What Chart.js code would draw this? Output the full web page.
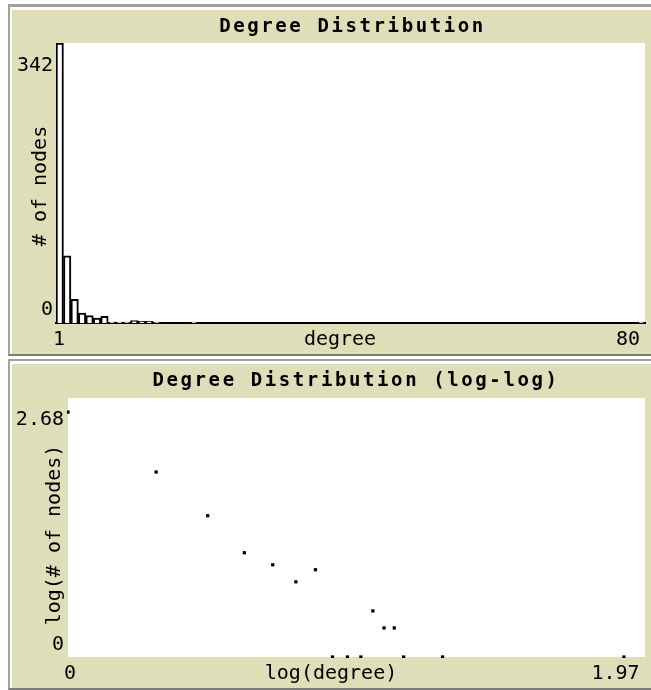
<!DOCTYPE html>
<html><head><meta charset="utf-8">
<script src="https://cdn.jsdelivr.net/npm/chart.js@4.4.0/dist/chart.umd.min.js"></script>
<style>
html,body{margin:0;padding:0;background:#fff;}
body{width:651px;height:690px;overflow:hidden;position:relative;}
.frame{position:absolute;left:8px;width:720px;box-sizing:border-box;background:#dedeb8;border-left:2px solid #a0a0a0;box-shadow:inset 2px 3px 0 #fff;}
#f1{top:4px;height:352px;border-top:3px solid #a0a0a0;border-bottom:2px solid #7c7c7c;}
#f2{top:359px;height:331px;border-top:2px solid #a0a0a0;border-bottom:2px solid #7c7c7c;}
canvas{position:absolute;left:12px;}
#c1{top:10px;}
#c2{top:364px;}
</style></head>
<body>
<div class="frame" id="f1"></div>
<div class="frame" id="f2"></div>
<canvas id="c1" width="678" height="344"></canvas>
<canvas id="c2" width="678" height="324"></canvas>
<script>
// ---- data ----
const degrees    = [1, 2, 3, 4, 5, 6, 7, 8, 9, 10, 11, 12, 13, 14, 19, 79];
const nodeCounts = [342, 82, 29, 12, 9, 6, 8, 1, 1, 1, 3, 2, 2, 1, 1, 1];
const logDegree  = [0, 0.301, 0.477, 0.602, 0.699, 0.778, 0.845, 0.903, 0.954, 1.0, 1.041, 1.079, 1.114, 1.146, 1.279, 1.898];
const logNodes   = [2.534, 1.914, 1.462, 1.079, 0.954, 0.778, 0.903, 0, 0, 0, 0.477, 0.301, 0.301, 0, 0, 0];
const histXTicks = [1, 80];
const histYTicks = [0, 342];
const logXTicks  = [0, 1.97];
const logYTicks  = [0, 2.68];
const histXTickLabels = ['1', '80'];
const histYTickLabels = ['0', '342'];
const logXTickLabels  = ['0', '1.97'];
const logYTickLabels  = ['0', '2.68'];

const MONO = '"DejaVu Sans Mono", monospace';
const tickFont = {family: MONO, size: 20, lineHeight: 1.2};
const titleFont = {family: MONO, size: 19, weight: 'bold', lineHeight: 1.2};

// plugin: white plot area, NetLogo-style label placement, spaced title
const netlogoLook = {
  id: 'netlogoLook',
  beforeDraw(chart, args, opts) {
    const {ctx, chartArea: a} = chart;
    ctx.save();
    ctx.fillStyle = '#ffffff';
    ctx.fillRect(a.left, a.top, a.right - a.left, a.bottom - a.top);
    ctx.restore();
    for (const id of ['x', 'y']) {
      const s = chart.scales[id];
      const o = opts[id];
      if (!s || !o) continue;
      const items = s.getLabelItems();
      items.forEach((it, i) => {
        const d = o.labels && o.labels[i];
        if (d && !it.__shifted) {
          it.options.translation = [it.options.translation[0] + d[0], it.options.translation[1] + d[1]];
          it.__shifted = true;
        }
      });
      if (!s.__wrapped && o.title) {
        const orig = s.drawTitle;
        s.drawTitle = function () {
          const c = this.ctx;
          c.save(); c.translate(o.title[0], o.title[1]); orig.call(this); c.restore();
        };
        s.__wrapped = true;
      }
    }
    const tb = chart.titleBlock;
    if (tb && !tb.__wrapped) {
      const origDraw = tb.draw;
      tb.draw = function (area) {
        const c = this.ctx;
        c.save();
        c.letterSpacing = (opts.titleSpacing || 0) + 'px';
        c.translate(opts.titleShift || 0, 0);
        origDraw.call(this, area);
        c.restore();
      };
      tb.__wrapped = true;
    }
  }
};

function fixedTicks(values) {
  return (s) => { s.ticks = values.map(v => ({value: v})); };
}
function labelFrom(values, labels) {
  return (v) => { const i = values.indexOf(v); return i >= 0 ? labels[i] : ''; };
}

// ---- Degree Distribution histogram ----
new Chart(document.getElementById('c1'), {
  type: 'bar',
  data: {
    datasets: [{
      data: degrees.map((d, i) => ({x: d + 0.5, y: nodeCounts[i]})),
      backgroundColor: '#ffffff',
      borderColor: '#000000',
      borderWidth: 2,
      barPercentage: 1,
      categoryPercentage: 1
    }]
  },
  options: {
    responsive: false, animation: false, devicePixelRatio: 1,
    events: [],
    layout: {padding: {left: 0, right: 45, top: 0, bottom: 0}},
    plugins: {
      legend: {display: false}, tooltip: {enabled: false},
      title: {display: true, text: 'Degree Distribution', color: '#000',
              font: titleFont, padding: {top: 5.6, bottom: 4.6}},
      netlogoLook: {titleSpacing: 2.6, titleShift: 24,
        x: {labels: [[3, 0], [-17, 0]], title: [-10.5, 0]},
        y: {labels: [[0, -13.5], [0, 22.5]], title: [0, 3]}}
    },
    scales: {
      x: {type: 'linear', min: histXTicks[0], max: histXTicks[1], offset: false,
          afterBuildTicks: fixedTicks(histXTicks), afterFit: (s) => { s.height = 31; },
          grid: {display: true, drawOnChartArea: false, drawTicks: false},
          border: {display: true, color: '#000', width: 2},
          ticks: {font: tickFont, color: '#000', padding: 5, maxRotation: 0, autoSkip: false,
                  callback: labelFrom(histXTicks, histXTickLabels)},
          title: {display: true, text: 'degree', color: '#000', font: tickFont, padding: {top: 0, bottom: 2}}},
      y: {type: 'linear', min: histYTicks[0], max: histYTicks[1],
          afterBuildTicks: fixedTicks(histYTicks), afterFit: (s) => { s.width = 44; },
          grid: {display: false, drawTicks: false}, border: {display: false},
          ticks: {font: tickFont, color: '#000', padding: 3, autoSkip: false,
                  callback: labelFrom(histYTicks, histYTickLabels)},
          title: {display: true, text: '# of nodes', color: '#000', font: tickFont, padding: {top: 17, bottom: 0}}}
    }
  },
  plugins: [netlogoLook]
});

// ---- Degree Distribution (log-log) ----
new Chart(document.getElementById('c2'), {
  type: 'scatter',
  data: {
    datasets: [{
      data: logDegree.map((x, i) => ({x: x, y: logNodes[i]})),
      pointStyle: 'rect', pointRadius: 2.3, pointBorderWidth: 0,
      backgroundColor: '#000', borderColor: '#000', clip: 1
    }]
  },
  options: {
    responsive: false, animation: false, devicePixelRatio: 1,
    events: [],
    layout: {padding: {left: 0, right: 45, top: 0, bottom: 0}},
    plugins: {
      legend: {display: false}, tooltip: {enabled: false},
      title: {display: true, text: 'Degree Distribution (log-log)', color: '#000',
              font: titleFont, padding: {top: 5.6, bottom: 5.6}},
      netlogoLook: {titleSpacing: 2.6, titleShift: 27.5,
        x: {labels: [[2, 0], [-29.5, 0]], title: [-25.5, 0]},
        y: {labels: [[0, -12.5], [0, 21.5]], title: [0, 7.5]}}
    },
    scales: {
      x: {type: 'linear', min: logXTicks[0], max: logXTicks[1],
          afterBuildTicks: fixedTicks(logXTicks), afterFit: (s) => { s.height = 31; },
          grid: {display: false, drawTicks: false}, border: {display: false},
          ticks: {font: tickFont, color: '#000', padding: 5, maxRotation: 0, autoSkip: false,
                  callback: labelFrom(logXTicks, logXTickLabels)},
          title: {display: true, text: 'log(degree)', color: '#000', font: tickFont, padding: {top: 0, bottom: 2}}},
      y: {type: 'linear', min: logYTicks[0], max: logYTicks[1],
          afterBuildTicks: fixedTicks(logYTicks), afterFit: (s) => { s.width = 56; },
          grid: {display: false, drawTicks: false}, border: {display: false},
          ticks: {font: tickFont, color: '#000', padding: 4, autoSkip: false,
                  callback: labelFrom(logYTicks, logYTickLabels)},
          title: {display: true, text: 'log(# of nodes)', color: '#000', font: tickFont, padding: {top: 31, bottom: 0}}}
    }
  },
  plugins: [netlogoLook]
});
</script>
</body></html>
